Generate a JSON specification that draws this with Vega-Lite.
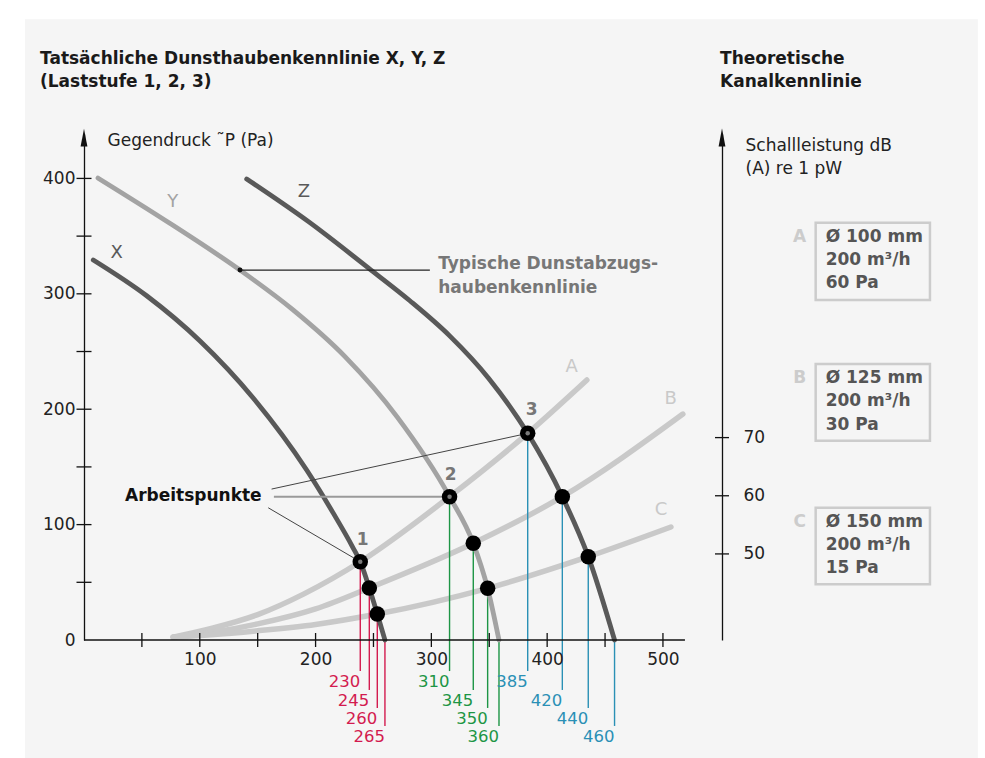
{
  "$schema": "https://vega.github.io/schema/vega-lite/v6.json",
  "width": 638,
  "height": 506,
  "autosize": {"type": "none"},
  "padding": {"left": 84, "top": 134, "right": 263, "bottom": 118},
  "background": "#ffffff",
  "config": {
    "view": {"stroke": null},
    "font": "DejaVu Sans",
    "axis": {
      "grid": false, "ticks": false, "tickSize": 0,
      "labelFont": "DejaVu Sans", "labelFontSize": 17, "labelColor": "#222222",
      "domainColor": "#111111", "domainWidth": 1.3,
      "titleFont": "DejaVu Sans", "titleFontSize": 17, "titleFontWeight": "normal", "titleColor": "#222222"
    }
  },
  "datasets": {
    "kurven": [
      {"kurve": "A", "q": 77, "p": 2.5}, {"kurve": "A", "q": 110, "p": 10}, {"kurve": "A", "q": 150, "p": 22}, {"kurve": "A", "q": 190, "p": 40}, {"kurve": "A", "q": 238.6, "p": 67.8}, {"kurve": "A", "q": 315.7, "p": 124.2}, {"kurve": "A", "q": 383.2, "p": 179.1}, {"kurve": "A", "q": 434.3, "p": 225.3},
      {"kurve": "B", "q": 77, "p": 2.5}, {"kurve": "B", "q": 110, "p": 6.5}, {"kurve": "B", "q": 150, "p": 14}, {"kurve": "B", "q": 200, "p": 27}, {"kurve": "B", "q": 246.4, "p": 45.1}, {"kurve": "B", "q": 336.2, "p": 83.8}, {"kurve": "B", "q": 413.1, "p": 124.2}, {"kurve": "B", "q": 517.2, "p": 195.8},
      {"kurve": "C", "q": 77, "p": 2.5}, {"kurve": "C", "q": 110, "p": 4.5}, {"kurve": "C", "q": 150, "p": 8}, {"kurve": "C", "q": 200, "p": 13.5}, {"kurve": "C", "q": 253.3, "p": 22.5}, {"kurve": "C", "q": 348.6, "p": 44.8}, {"kurve": "C", "q": 435.5, "p": 72.2}, {"kurve": "C", "q": 506.9, "p": 97.9},
      {"kurve": "X", "q": 8.0, "p": 329.3}, {"kurve": "X", "q": 54.1, "p": 298.3}, {"kurve": "X", "q": 100.2, "p": 259.1}, {"kurve": "X", "q": 146.3, "p": 209.5}, {"kurve": "X", "q": 192.3, "p": 147.3}, {"kurve": "X", "q": 215.0, "p": 110.4}, {"kurve": "X", "q": 231.9, "p": 80.8}, {"kurve": "X", "q": 238.6, "p": 67.8}, {"kurve": "X", "q": 246.4, "p": 45.1}, {"kurve": "X", "q": 253.3, "p": 22.5}, {"kurve": "X", "q": 259.9, "p": 0},
      {"kurve": "Y", "q": 12.1, "p": 400.3}, {"kurve": "Y", "q": 73.4, "p": 361.6}, {"kurve": "Y", "q": 134.7, "p": 320.6}, {"kurve": "Y", "q": 180.0, "p": 286.5}, {"kurve": "Y", "q": 225.2, "p": 245.8}, {"kurve": "Y", "q": 270.4, "p": 193.4}, {"kurve": "Y", "q": 315.7, "p": 124.2}, {"kurve": "Y", "q": 336.2, "p": 83.8}, {"kurve": "Y", "q": 348.6, "p": 44.8}, {"kurve": "Y", "q": 358.4, "p": 0},
      {"kurve": "Z", "q": 140.5, "p": 399.5}, {"kurve": "Z", "q": 194.2, "p": 362.3}, {"kurve": "Z", "q": 247.9, "p": 320.6}, {"kurve": "Z", "q": 281.7, "p": 293.8}, {"kurve": "Z", "q": 315.6, "p": 263.8}, {"kurve": "Z", "q": 349.4, "p": 226.9}, {"kurve": "Z", "q": 383.2, "p": 179.1}, {"kurve": "Z", "q": 413.1, "p": 124.2}, {"kurve": "Z", "q": 435.5, "p": 72.2}, {"kurve": "Z", "q": 458.2, "p": 0}
    ],
    "betrieb": [
      {"stufe": "1", "q": 238.6, "p": 67.8, "wert": "230", "ly": -26.9, "typ": "haupt"},
      {"stufe": "1", "q": 246.4, "p": 45.1, "wert": "245", "ly": -43.3, "typ": "neben"},
      {"stufe": "1", "q": 253.3, "p": 22.5, "wert": "260", "ly": -58.9, "typ": "neben"},
      {"stufe": "1", "q": 259.9, "p": 0, "wert": "265", "ly": -74.5, "typ": "ende"},
      {"stufe": "2", "q": 315.7, "p": 124.2, "wert": "310", "ly": -26.9, "typ": "haupt"},
      {"stufe": "2", "q": 336.2, "p": 83.8, "wert": "345", "ly": -43.3, "typ": "neben"},
      {"stufe": "2", "q": 348.6, "p": 44.8, "wert": "350", "ly": -58.9, "typ": "neben"},
      {"stufe": "2", "q": 358.4, "p": 0, "wert": "360", "ly": -74.5, "typ": "ende"},
      {"stufe": "3", "q": 383.2, "p": 179.1, "wert": "385", "ly": -26.9, "typ": "haupt"},
      {"stufe": "3", "q": 413.1, "p": 124.2, "wert": "420", "ly": -43.3, "typ": "neben"},
      {"stufe": "3", "q": 435.5, "p": 72.2, "wert": "440", "ly": -58.9, "typ": "neben"},
      {"stufe": "3", "q": 458.2, "p": 0, "wert": "460", "ly": -74.5, "typ": "ende"}
    ],
    "verbinder": [
      {"q1": 134.7, "p1": 320.6, "q2": 298.7, "p2": 320.6, "art": "dunkel"},
      {"q1": 162, "p1": 130.8, "q2": 383.2, "p2": 179.1, "art": "duenn"},
      {"q1": 164, "p1": 124.2, "q2": 315.7, "p2": 124.2, "art": "grau"},
      {"q1": 159.1, "p1": 114.6, "q2": 238.6, "p2": 67.8, "art": "duenn"}
    ],
    "kaesten": [
      {"id": "A", "q1": 631.9, "q2": 730.6, "ptop": 361.6, "pbot": 294.6, "zeilen": ["Ø 100 mm", "200 m³/h", "60 Pa"]},
      {"id": "B", "q1": 631.9, "q2": 730.6, "ptop": 239.2, "pbot": 172.7, "zeilen": ["Ø 125 mm", "200 m³/h", "30 Pa"]},
      {"id": "C", "q1": 631.9, "q2": 730.6, "ptop": 114.6, "pbot": 48.3, "zeilen": ["Ø 150 mm", "200 m³/h", "15 Pa"]}
    ]
  },
  "layer": [
    {
      "layer": [
        {
          "data": {"values": [{}]},
          "mark": {"type": "rect", "fill": "#f5f5f5"},
          "encoding": {
            "x": {"datum": -51, "type": "quantitative", "scale": {"domain": [0, 551], "nice": false, "zero": false},
                  "axis": {"zindex": 2, "values": [100, 200, 300, 400, 500], "domain": false, "labelPadding": 11, "title": null, "labelFlush": false, "labelOverlap": false}},
            "x2": {"datum": 772},
            "y": {"datum": 538, "type": "quantitative", "scale": {"domain": [0, 438.5], "nice": false, "zero": false},
                  "axis": {"zindex": 2, "values": [0, 100, 200, 300, 400], "labelPadding": 9, "labelFlush": false, "labelOverlap": false,
                           "title": "Gegendruck ˜P (Pa)", "titleAngle": 0, "titleAlign": "left", "titleBaseline": "alphabetic", "titleX": 23, "titleY": 11}},
            "y2": {"datum": -110}
          }
        },
        {
          "data": {"name": "kurven"},
          "transform": [{"filter": "indexof(['A','B','C'], datum.kurve) >= 0"}],
          "mark": {"type": "line", "interpolate": "monotone", "strokeWidth": 5.5, "strokeCap": "round"},
          "encoding": {
            "x": {"field": "q", "type": "quantitative"},
            "y": {"field": "p", "type": "quantitative"},
            "color": {"field": "kurve", "type": "nominal", "legend": null,
                      "scale": {"domain": ["A", "B", "C", "X", "Y", "Z", "1", "2", "3"], "range": ["#c9c9c9", "#c9c9c9", "#c9c9c9", "#595959", "#a3a3a3", "#595959", "#d31b4f", "#1d9545", "#2a90b5"]}}
          }
        },
        {
          "data": {"name": "betrieb"},
          "mark": {"type": "rule", "strokeWidth": 1.4},
          "encoding": {
            "x": {"field": "q", "type": "quantitative"},
            "y": {"field": "p", "type": "quantitative"},
            "y2": {"field": "ly"},
            "color": {"field": "stufe", "type": "nominal", "legend": null}
          }
        },
        {
          "data": {"name": "kurven"},
          "transform": [{"filter": "indexof(['X','Y','Z'], datum.kurve) >= 0"}],
          "mark": {"type": "line", "interpolate": "monotone", "strokeWidth": 4.8, "strokeCap": "round"},
          "encoding": {
            "x": {"field": "q", "type": "quantitative"},
            "y": {"field": "p", "type": "quantitative"},
            "color": {"field": "kurve", "type": "nominal", "legend": null}
          }
        },
        {
          "data": {"name": "verbinder"},
          "transform": [{"filter": "datum.art === 'grau'"}],
          "mark": {"type": "rule", "strokeWidth": 2, "color": "#9a9a9a"},
          "encoding": {"x": {"field": "q1", "type": "quantitative"}, "y": {"field": "p1", "type": "quantitative"}, "x2": {"field": "q2"}, "y2": {"field": "p2"}}
        },
        {
          "data": {"name": "verbinder"},
          "transform": [{"filter": "datum.art === 'duenn'"}],
          "mark": {"type": "rule", "strokeWidth": 1, "color": "#444444"},
          "encoding": {"x": {"field": "q1", "type": "quantitative"}, "y": {"field": "p1", "type": "quantitative"}, "x2": {"field": "q2"}, "y2": {"field": "p2"}}
        },
        {
          "data": {"name": "verbinder"},
          "transform": [{"filter": "datum.art === 'dunkel'"}],
          "mark": {"type": "rule", "strokeWidth": 1.3, "color": "#222222"},
          "encoding": {"x": {"field": "q1", "type": "quantitative"}, "y": {"field": "p1", "type": "quantitative"}, "x2": {"field": "q2"}, "y2": {"field": "p2"}}
        },
        {
          "data": {"name": "verbinder"},
          "transform": [{"filter": "datum.art === 'dunkel'"}],
          "mark": {"type": "circle", "size": 24, "color": "#111111", "opacity": 1},
          "encoding": {"x": {"field": "q1", "type": "quantitative"}, "y": {"field": "p1", "type": "quantitative"}}
        },
        {
          "data": {"name": "betrieb"},
          "transform": [{"filter": "datum.typ !== 'ende'"}],
          "mark": {"type": "circle", "size": 240, "color": "#000000", "opacity": 1},
          "encoding": {"x": {"field": "q", "type": "quantitative"}, "y": {"field": "p", "type": "quantitative"}}
        },
        {
          "data": {"name": "betrieb"},
          "transform": [{"filter": "datum.typ === 'haupt'"}],
          "mark": {"type": "circle", "size": 20, "color": "#7a7a7a", "opacity": 1},
          "encoding": {"x": {"field": "q", "type": "quantitative"}, "y": {"field": "p", "type": "quantitative"}}
        },
        {
          "data": {"name": "betrieb"},
          "mark": {"type": "text", "align": "right", "baseline": "top", "dy": 3, "dx": 0, "fontSize": 16.5},
          "encoding": {
            "x": {"field": "q", "type": "quantitative"},
            "y": {"field": "ly", "type": "quantitative"},
            "text": {"field": "wert"},
            "color": {"field": "stufe", "type": "nominal", "legend": null}
          }
        },
        {
          "data": {"values": [
            {"t": "X", "q": 28.2, "p": 335.6}, {"t": "Y", "q": 76.6, "p": 379.8}, {"t": "Z", "q": 190, "p": 388.5},
            {"t": "A", "q": 421.2, "p": 236.3}, {"t": "B", "q": 506.7, "p": 208.6}, {"t": "C", "q": 498.3, "p": 112.7}
          ]},
          "mark": {"type": "text", "align": "center", "baseline": "middle", "fontSize": 18},
          "encoding": {
            "x": {"field": "q", "type": "quantitative"},
            "y": {"field": "p", "type": "quantitative"},
            "text": {"field": "t"},
            "color": {"field": "t", "type": "nominal", "legend": null}
          }
        },
        {
          "data": {"values": [{"t": "1", "q": 240.7, "p": 86.7}, {"t": "2", "q": 316.7, "p": 143}, {"t": "3", "q": 386.6, "p": 199.3}]},
          "mark": {"type": "text", "align": "center", "baseline": "middle", "fontSize": 17, "fontWeight": "bold", "color": "#777777"},
          "encoding": {"x": {"field": "q", "type": "quantitative"}, "y": {"field": "p", "type": "quantitative"}, "text": {"field": "t"}}
        },
        {
          "data": {"values": [
            {"t": ["Tatsächliche Dunsthaubenkennlinie X, Y, Z", "(Laststufe 1, 2, 3)"], "q": -38, "p": 498.9},
            {"t": ["Theoretische", "Kanalkennlinie"], "q": 549.3, "p": 498.9}
          ]},
          "mark": {"type": "text", "align": "left", "baseline": "alphabetic", "fontSize": 17, "fontWeight": "bold", "lineHeight": 22.5, "color": "#1a1a1a"},
          "encoding": {"x": {"field": "q", "type": "quantitative"}, "y": {"field": "p", "type": "quantitative"}, "text": {"field": "t"}}
        },
        {
          "data": {"values": [{"t": "Arbeitspunkte", "q": 35.4, "p": 125}]},
          "mark": {"type": "text", "align": "left", "baseline": "middle", "fontSize": 17, "fontWeight": "bold", "color": "#111111"},
          "encoding": {"x": {"field": "q", "type": "quantitative"}, "y": {"field": "p", "type": "quantitative"}, "text": {"field": "t"}}
        },
        {
          "data": {"values": [{"t": ["Typische Dunstabzugs-", "haubenkennlinie"], "q": 305.9, "p": 321.2}]},
          "mark": {"type": "text", "align": "left", "baseline": "alphabetic", "fontSize": 17, "fontWeight": "bold", "lineHeight": 23.4, "color": "#777777"},
          "encoding": {"x": {"field": "q", "type": "quantitative"}, "y": {"field": "p", "type": "quantitative"}, "text": {"field": "t"}}
        },
        {
          "data": {"name": "kaesten"},
          "mark": {"type": "rect", "fill": null, "stroke": "#cccccc", "strokeWidth": 2.5},
          "encoding": {"x": {"field": "q1", "type": "quantitative"}, "x2": {"field": "q2"}, "y": {"field": "ptop", "type": "quantitative"}, "y2": {"field": "pbot"}}
        },
        {
          "data": {"name": "kaesten"},
          "mark": {"type": "text", "align": "left", "baseline": "top", "dx": 10, "dy": 6, "fontSize": 17, "fontWeight": "bold", "lineHeight": 23.3, "color": "#555555"},
          "encoding": {"x": {"field": "q1", "type": "quantitative"}, "y": {"field": "ptop", "type": "quantitative"}, "text": {"field": "zeilen"}}
        },
        {
          "data": {"name": "kaesten"},
          "mark": {"type": "text", "align": "center", "baseline": "top", "dx": -16, "dy": 6, "fontSize": 17, "fontWeight": "bold", "color": "#cccccc"},
          "encoding": {"x": {"field": "q1", "type": "quantitative"}, "y": {"field": "ptop", "type": "quantitative"}, "text": {"field": "id"}}
        },
        {
          "data": {"values": [{"v": 50}, {"v": 100}, {"v": 150}, {"v": 200}, {"v": 250}, {"v": 300}, {"v": 350}, {"v": 400}]},
          "mark": {"type": "tick", "orient": "horizontal", "size": 15, "thickness": 1.3, "color": "#111111", "opacity": 1},
          "encoding": {"y": {"field": "v", "type": "quantitative"}, "x": {"datum": 0, "type": "quantitative"}}
        },
        {
          "data": {"values": [{"v": 50}, {"v": 100}, {"v": 150}, {"v": 200}, {"v": 250}, {"v": 300}, {"v": 350}, {"v": 400}, {"v": 450}, {"v": 500}]},
          "mark": {"type": "tick", "orient": "vertical", "size": 14, "thickness": 1.3, "color": "#111111", "opacity": 1},
          "encoding": {"x": {"field": "v", "type": "quantitative"}, "y": {"datum": 0, "type": "quantitative"}}
        },
        {
          "data": {"values": [{}]},
          "mark": {"type": "rule", "color": "#111111", "strokeWidth": 1.3},
          "encoding": {"x": {"datum": 0, "type": "quantitative"}, "x2": {"datum": 519}, "y": {"datum": 0, "type": "quantitative"}}
        },
        {
          "data": {"values": [{}]},
          "mark": {"type": "point", "shape": "M0,-1L0.38,1L-0.38,1Z", "filled": true, "size": 320, "color": "#111111", "opacity": 1},
          "encoding": {"x": {"datum": 0, "type": "quantitative"}, "y": {"datum": 435.4, "type": "quantitative"}}
        }
      ]
    },
    {
      "layer": [
        {
          "data": {"values": [{"v": 50}, {"v": 60}, {"v": 70}]},
          "mark": {"type": "tick", "orient": "horizontal", "size": 14, "thickness": 1.3, "color": "#111111", "opacity": 1},
          "encoding": {
            "y": {"field": "v", "type": "quantitative", "scale": {"domain": [35.2, 122.2], "nice": false, "zero": false},
                  "axis": {"zindex": 2, "orient": "right", "values": [50, 60, 70], "labelPadding": 21, "labelFlush": false,
                           "title": ["Schallleistung dB", "(A) re 1 pW"], "titleAngle": 0, "titleAlign": "left", "titleBaseline": "alphabetic",
                           "titleX": 23, "titleY": 16, "titleLineHeight": 23.3}},
            "x": {"datum": 551, "type": "quantitative", "scale": {"domain": [0, 551], "nice": false, "zero": false}}
          }
        },
        {
          "data": {"values": [{}]},
          "mark": {"type": "point", "shape": "M0,-1L0.38,1L-0.38,1Z", "filled": true, "size": 320, "color": "#111111", "opacity": 1},
          "encoding": {"x": {"datum": 551, "type": "quantitative"}, "y": {"datum": 121.6, "type": "quantitative"}}
        }
      ]
    }
  ],
  "resolve": {"scale": {"y": "independent"}}
}
